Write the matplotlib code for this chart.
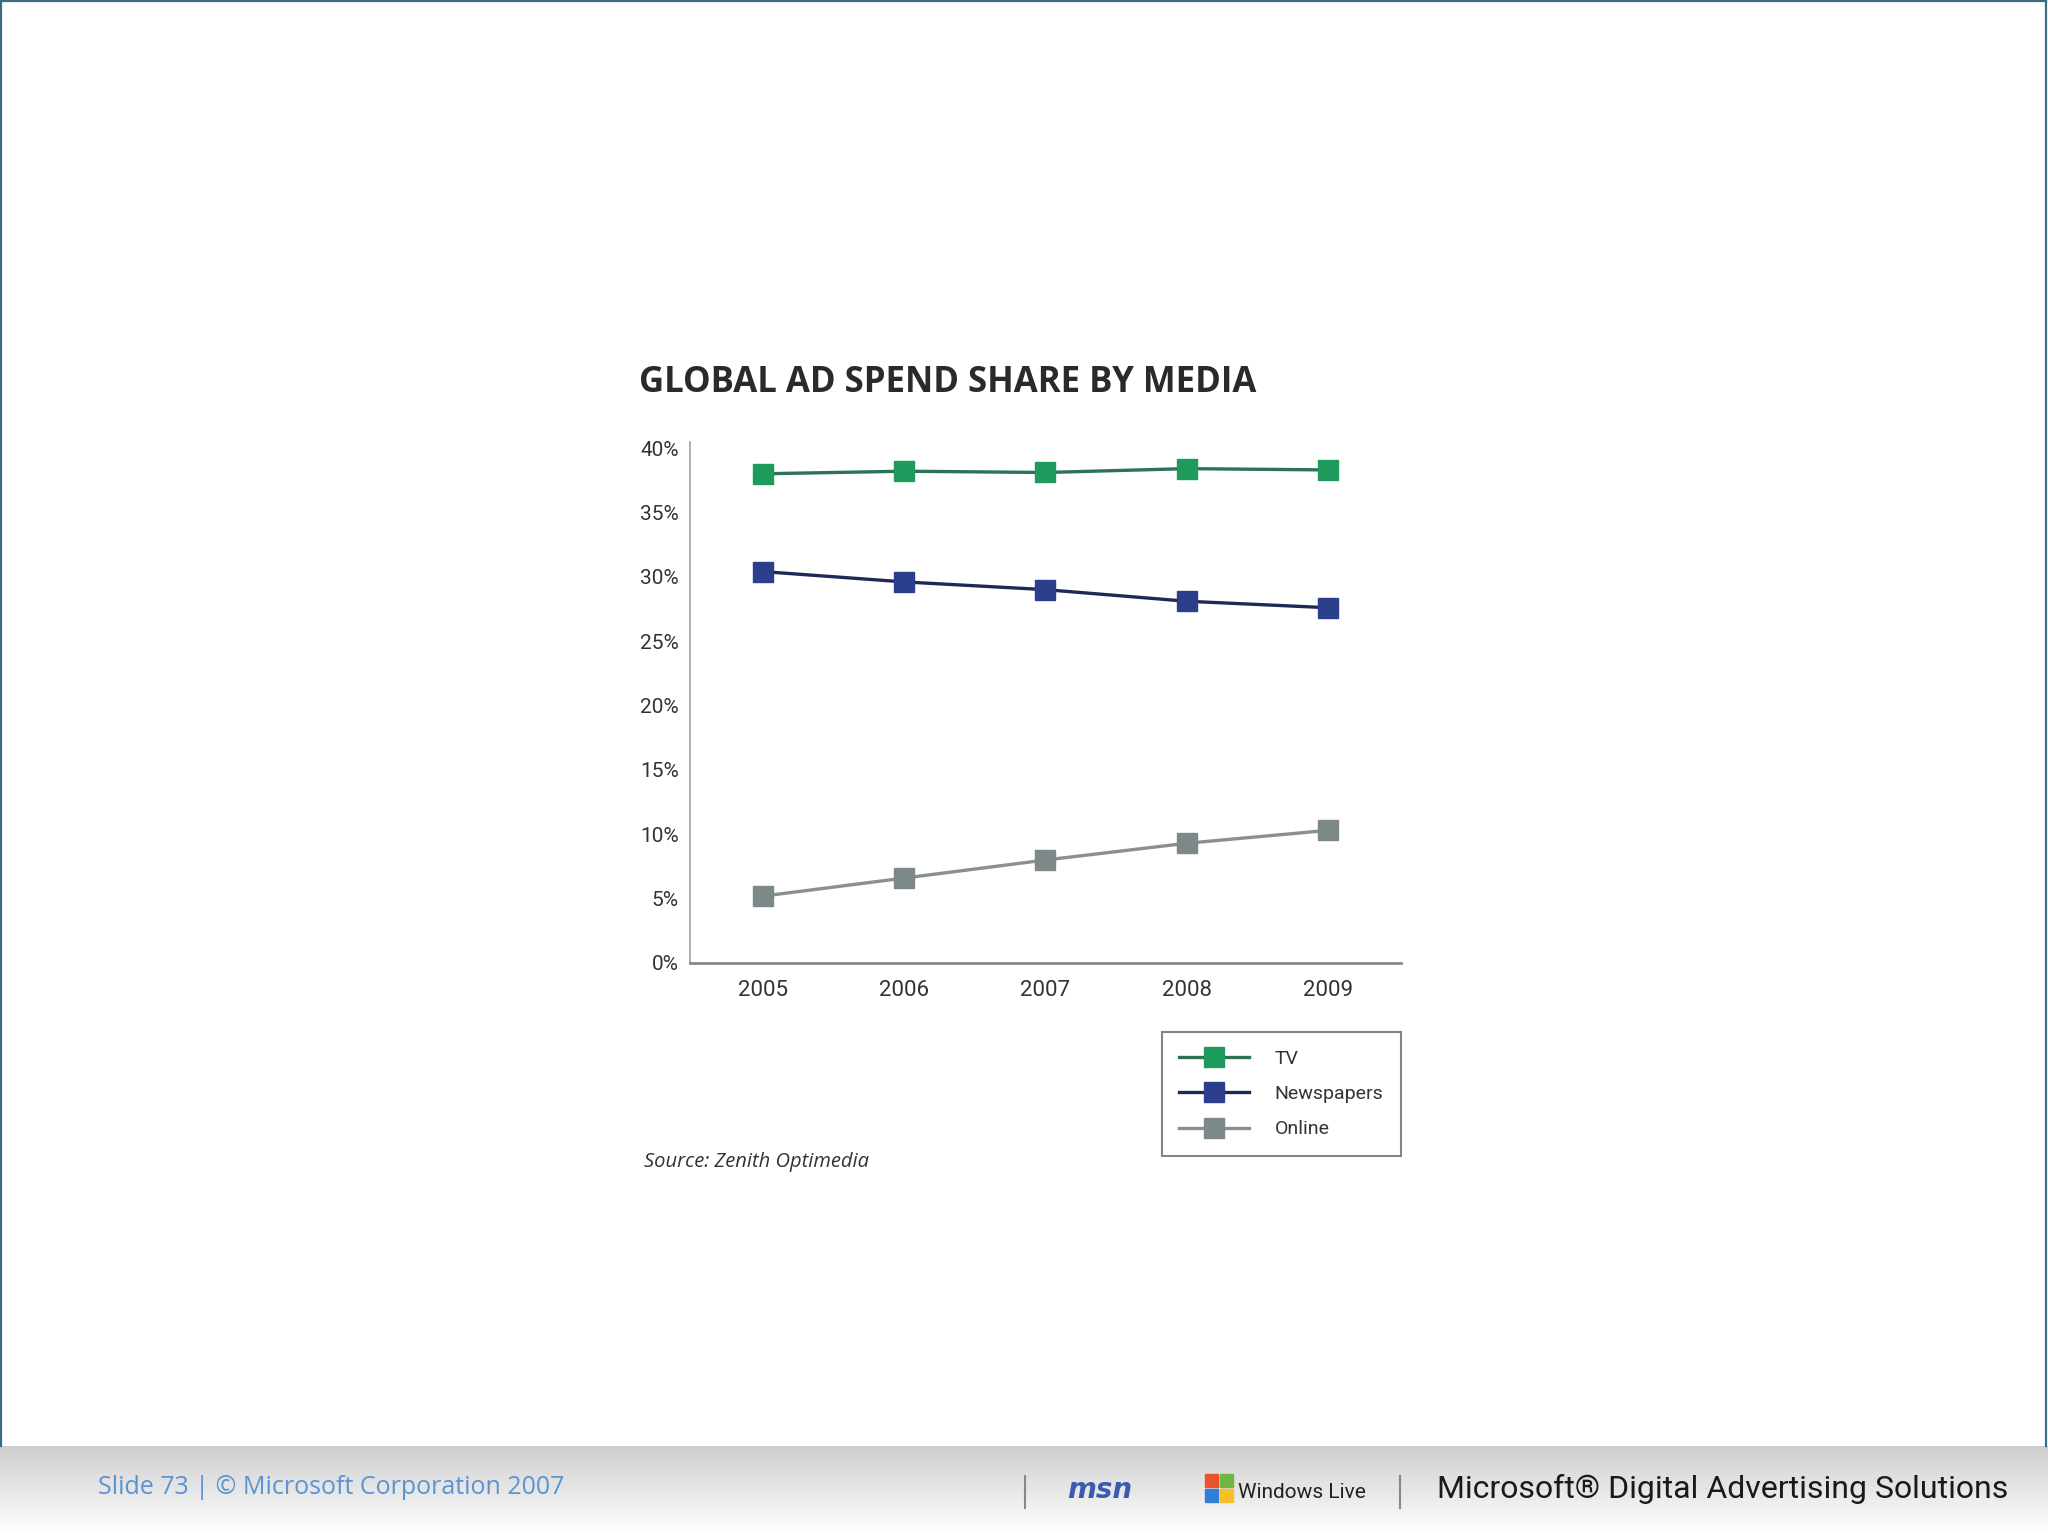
import matplotlib
matplotlib.use("Agg")
import matplotlib.pyplot as plt
from matplotlib.patches import Rectangle
import numpy as np

# data
years = [2005, 2006, 2007, 2008, 2009]
tv = [38.0, 38.2, 38.1, 38.4, 38.3]
newspapers = [30.4, 29.6, 29.0, 28.1, 27.6]
online = [5.2, 6.6, 8.0, 9.3, 10.3]
yticks = [0, 5, 10, 15, 20, 25, 30, 35, 40]
ytick_labels = ["0%", "5%", "10%", "15%", "20%", "25%", "30%", "35%", "40%"]

W, H = 2048, 1536
fig = plt.figure(figsize=(20.48, 15.36), dpi=100)
fig.patch.set_facecolor("white")

# footer band with a soft gray gradient (white at the bottom, gray at the top)
bg = fig.add_axes([0, 0, 1, 90 / H])
grad = np.linspace(1.0, 0.81, 100).reshape(-1, 1)
bg.imshow(grad, aspect="auto", cmap="gray", vmin=0, vmax=1,
          extent=[0, 1, 0, 1], origin="lower")
bg.set_axis_off()

# slide frame (left, top, right)
fy = 90 / H
for xs, ys in [([0.0006, 0.0006], [fy, 0.9994]), ([0.0006, 0.9992], [0.9994, 0.9994]),
               ([0.9992, 0.9992], [fy, 0.9994])]:
    fig.add_artist(plt.Line2D(xs, ys, transform=fig.transFigure, color="#3d6b84", lw=1.6))

# chart
ax = fig.add_axes([690 / W, 1 - 963 / H, (1401 - 690) / W, (963 - 441.6) / H])
ax.plot(years, tv, color="#2b7352", lw=2.4, marker="s", ms=14,
        mfc="#1d9a5c", mec="#1d9a5c", label="TV")
ax.plot(years, newspapers, color="#1e2a55", lw=2.4, marker="s", ms=14,
        mfc="#2b3f8c", mec="#2b3f8c", label="Newspapers")
ax.plot(years, online, color="#8a8f8f", lw=2.4, marker="s", ms=14,
        mfc="#7d8888", mec="#7d8888", label="Online")

ax.set_xlim(2004.48, 2009.52)
ax.set_ylim(0, 40.5)
ax.set_xticks(years)
ax.set_xticklabels([str(y) for y in years], fontsize=16, color="#333333",
                   family="Roboto")
ax.set_yticks(yticks)
ax.set_yticklabels(ytick_labels, fontsize=15, color="#333333", family="Roboto")
ax.tick_params(axis="both", length=0)
ax.tick_params(axis="x", pad=12)
ax.tick_params(axis="y", pad=8)
for s in ["top", "right"]:
    ax.spines[s].set_visible(False)
ax.spines["left"].set_color("#a0a0a0")
ax.spines["bottom"].set_color("#8a8a8a")
ax.spines["left"].set_linewidth(1.2)
ax.spines["bottom"].set_linewidth(2)

leg = ax.legend(loc="upper right", bbox_to_anchor=(1401 / W, 1 - 1032 / H),
                bbox_transform=fig.transFigure, frameon=True, fancybox=False,
                edgecolor="#666666", handlelength=3.6, borderaxespad=0,
                labelspacing=0.9, borderpad=0.9, handletextpad=1.3,
                prop={"family": "Roboto", "size": 14})
leg.get_frame().set_linewidth(1.5)
for t in leg.get_texts():
    t.set_color("#333333")

fig.text(639 / W, 1 - 383 / H, "GLOBAL AD SPEND SHARE BY MEDIA", fontsize=25,
         fontweight="bold", color="#2a2a2a", family="Open Sans", va="center")
fig.text(644 / W, 1 - 1162 / H, "Source: Zenith Optimedia", fontsize=14.5,
         style="italic", color="#333333", family="Open Sans", va="center")

# footer texts
fig.text(98 / W, 1 - 1487 / H, "Slide 73 | © Microsoft Corporation 2007",
         fontsize=18, color="#5b93d3", family="Open Sans", va="center")
fig.text(1067 / W, 1 - 1490 / H, "msn", fontsize=20, fontweight="bold",
         style="italic", color="#3a5bb0", family="DejaVu Sans", va="center")
flag = [("#e8532b", 0, 1), ("#6fb83f", 1, 1), ("#2f7fd8", 0, 0), ("#f5c02a", 1, 0)]
for c, i, j in flag:
    fig.patches.append(Rectangle(((1205 + i * 15) / W, (34 + j * 15) / H), 13 / W, 13 / H,
                                 transform=fig.transFigure, color=c))
fig.text(1238 / W, 1 - 1493 / H, "Windows Live", fontsize=15, color="#222222",
         family="Roboto", va="center")
for x in [1025, 1400]:
    fig.add_artist(plt.Line2D([x / W, x / W], [1 - 1508 / H, 1 - 1476 / H],
                              transform=fig.transFigure, color="#888888", lw=1.5))
fig.text(1437 / W, 1 - 1489 / H, "Microsoft\u00ae Digital Advertising Solutions",
         fontsize=23, color="#1a1a1a", family="Roboto", va="center")

fig.savefig("out.png", dpi=100)
